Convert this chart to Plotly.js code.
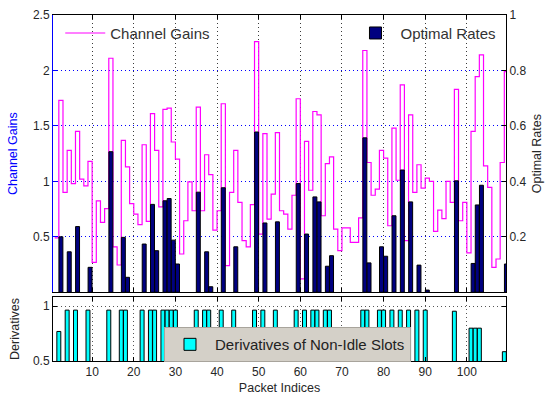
<!DOCTYPE html>
<html>
<head>
<meta charset="utf-8">
<script src="https://cdn.plot.ly/plotly-3.0.1.min.js"></script>
<style>html,body{margin:0;padding:0;background:#fff;}#chart{width:546px;height:396px;}</style>
</head>
<body>
<div id="chart"></div>
<script>
// Channel gains per packet slot (stairs, left axis), slots 1..110
const channelGains = [
  0.49, 1.73, 0.90, 1.28, 0.98, 1.45, 1.02, 0.96, 1.18, 0.27,
  0.825, 0.63, 0.755, 2.11, 0.41, 0.246, 1.37, 1.13, 0.80, 0.705,
  0.61, 1.33, 0.64, 1.61, 1.28, 0.77, 1.65, 1.66, 1.355, 1.20,
  0.345, 0.645, 0.995, 0.735, 1.67, 0.735, 1.24, 1.06, 0.56, 0.735,
  1.70, 0.24, 0.90, 1.28, 0.81, 0.465, 0.41, 0.79, 2.26, 0.525,
  1.43, 0.66, 0.885, 1.44, 0.735, 0.705, 0.57, 0.875, 1.745, 0.12,
  1.36, 0.92, 1.63, 1.60, 0.69, 1.16, 1.22, 0.57, 0.375, 0.58,
  0.58, 0.45, 0.45, 0.67, 2.18, 1.17, 0.875, 0.93, 1.28, 1.21,
  0.60, 1.48, 1.01, 1.87, 0.465, 1.60, 0.90, 1.15, 0.94, 1.03,
  1.00, 0.55, 0.74, 0.665, 1.00, 0.81, 1.83, 0.645, 0.81, 0.355,
  1.45, 1.945, 2.14, 1.14, 0.945, 0.225, 0.30, 1.17, 1.99, 1.99
];
// Non-idle slots, their optimal rates (right axis) and derivatives (bottom panel)
const activeSlots = [2, 4, 6, 9, 14, 17, 18, 22, 24, 25, 27, 28, 29, 30, 35, 37, 38, 41, 44, 49,
  51, 54, 59, 61, 63, 64, 66, 67, 75, 76, 79, 80, 82, 84, 86, 88, 90, 97, 101, 102, 103, 109];
const optimalRates = [0.20, 0.146, 0.237, 0.09, 0.507, 0.198, 0.054, 0.174, 0.317, 0.15,
  0.33, 0.338, 0.188, 0.102, 0.361, 0.146, 0.02, 0.377, 0.164, 0.578,
  0.25, 0.254, 0.392, 0.21, 0.344, 0.326, 0.094, 0.132, 0.557, 0.106,
  0.164, 0.13, 0.276, 0.441, 0.326, 0.098, 0.008, 0.402, 0.104, 0.315, 0.386, 0.102];
const derivatives = [0.77, 0.965, 0.965, 0.965, 0.965, 0.965, 0.965, 0.965, 0.965, 0.965,
  0.965, 0.965, 0.965, 0.965, 0.965, 0.965, 0.965, 0.965, 0.965, 0.965,
  0.965, 0.965, 0.965, 0.965, 0.965, 0.965, 0.965, 0.965, 0.965, 0.965,
  0.965, 0.965, 0.965, 0.965, 0.965, 0.965, 0.965, 0.955, 0.80, 0.80, 0.80, 0.585];
const xTicks = [10, 20, 30, 40, 50, 60, 70, 80, 90, 100];
const gainTicks = [0.5, 1, 1.5, 2, 2.5];
const rateTicks = [0.2, 0.4, 0.6, 0.8, 1];
const derivTicks = [0.5, 1];

const slotIndex = channelGains.map((_, i) => i + 1);
const FONT = 'Liberation Sans, Arial, sans-serif';
const TXT = '#262626';

const traces = [
  {
    type: 'scatter', mode: 'lines', name: 'Channel Gains',
    x: slotIndex, y: channelGains, line: {shape: 'hv', color: '#FF00FF', width: 1.2},
    xaxis: 'x', yaxis: 'y', legend: 'legend', hoverinfo: 'skip'
  },
  {
    type: 'bar', name: 'Optimal Rates',
    x: activeSlots.map(s => s + 0.5), y: optimalRates, width: 0.95,
    marker: {color: '#000080', line: {color: '#000000', width: 1}},
    xaxis: 'x', yaxis: 'y2', legend: 'legend2', hoverinfo: 'skip'
  },
  {
    type: 'bar', name: 'Derivatives of Non-Idle Slots',
    x: activeSlots, y: derivatives, width: 0.95,
    marker: {color: '#00FFFF', line: {color: '#000000', width: 1}},
    xaxis: 'x2', yaxis: 'y3', legend: 'legend3', hoverinfo: 'skip'
  }
];

const commonX = {
  range: [0.6, 109.4], tickmode: 'array', tickvals: xTicks,
  ticks: 'inside', ticklen: 4, tickcolor: '#000', showline: true, linecolor: '#000', linewidth: 1,
  mirror: 'ticks', showgrid: true, gridcolor: '#3a3a3a', griddash: '1px,3px', gridwidth: 1,
  zeroline: false, fixedrange: true
};

const layout = {
  width: 546, height: 396,
  margin: {l: 53, r: 40, t: 15, b: 35},
  paper_bgcolor: '#fff', plot_bgcolor: '#fff',
  font: {family: FONT, size: 12, color: TXT},
  bargap: 0, barmode: 'overlay',
  xaxis: Object.assign({}, commonX, {anchor: 'y', domain: [0, 1], showticklabels: false}),
  yaxis: {
    domain: [0.1986, 1], range: [0, 2.5], tickmode: 'array', tickvals: gainTicks,
    ticks: 'inside', ticklen: 4, tickcolor: '#0000FF', showline: true, linecolor: '#0000FF',
    showgrid: true, gridcolor: '#0000FF', griddash: '1px,3px', zeroline: false,
    tickfont: {size: 12, color: TXT},
    title: {text: 'Channel Gains', font: {size: 12.5, color: '#0000FF'}, standoff: 12},
    fixedrange: true
  },
  yaxis2: {
    overlaying: 'y', side: 'right', anchor: 'x', range: [0, 1], tickmode: 'array', tickvals: rateTicks,
    ticks: 'inside', ticklen: 4, tickcolor: '#000', showline: true, linecolor: '#000',
    showgrid: false, zeroline: false, tickfont: {size: 12, color: TXT},
    title: {text: 'Optimal Rates', font: {size: 12.5, color: TXT}, standoff: 6},
    fixedrange: true
  },
  xaxis2: Object.assign({}, commonX, {
    anchor: 'y3', domain: [0, 1], showticklabels: true, tickfont: {size: 12, color: TXT},
    gridcolor: '#555',
    title: {text: 'Packet Indices', font: {size: 12.5, color: TXT}, standoff: 4}
  }),
  yaxis3: {
    domain: [0, 0.185], anchor: 'x2', range: [0.5, 1.085], tickmode: 'array', tickvals: derivTicks,
    ticks: 'inside', ticklen: 4, tickcolor: '#000', showline: true, linecolor: '#000', mirror: 'ticks',
    showgrid: true, gridcolor: '#555', griddash: '1px,3px', zeroline: false,
    tickfont: {size: 12, color: TXT},
    title: {text: 'Derivatives', font: {size: 12.5, color: TXT}, standoff: 10},
    fixedrange: true
  },
  legend: {
    x: 0.016, y: 0.995, xanchor: 'left', yanchor: 'top', bgcolor: 'rgba(0,0,0,0)', borderwidth: 0,
    font: {size: 15, color: '#333'}, itemwidth: 40
  },
  legend2: {
    x: 0.99, y: 0.995, xanchor: 'right', yanchor: 'top', bgcolor: 'rgba(0,0,0,0)', borderwidth: 0,
    font: {size: 15, color: '#333'}, itemwidth: 40
  },
  legend3: {
    x: 0.245, y: 0.098, xanchor: 'left', yanchor: 'top', bgcolor: '#D4D0C8', bordercolor: '#A8A49C',
    borderwidth: 1, font: {size: 15, color: '#222'}, itemwidth: 40
  },
  showlegend: true
};

Plotly.newPlot('chart', traces, layout, {staticPlot: true, displayModeBar: false});
</script>
</body>
</html>
